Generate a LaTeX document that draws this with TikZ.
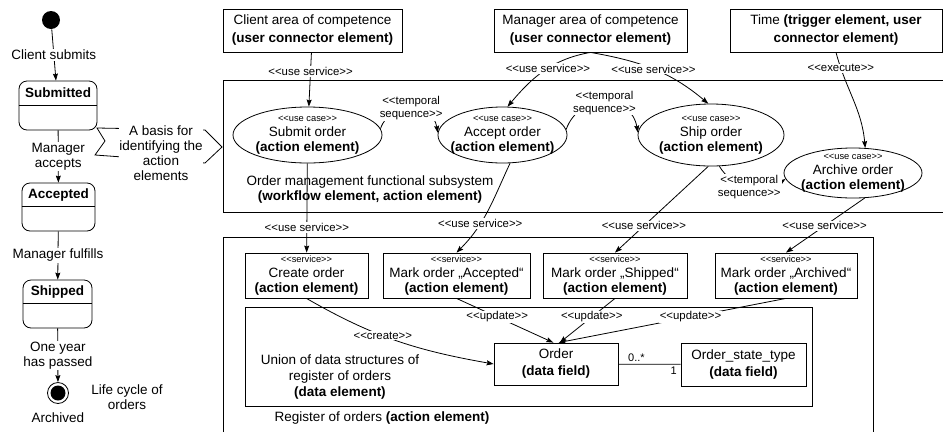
\documentclass[tikz,border=0pt]{standalone}
\usepackage{fontspec}
\setmainfont{Liberation Sans}[Ligatures=TeXOff]
\usetikzlibrary{arrows.meta, calc, shapes.geometric}
\newcommand{\stereo}[1]{{\fontsize{9.3}{10}\selectfont <<#1>>}}

\begin{document}
\begin{tikzpicture}[x=1pt, y=-1pt, line width=0.8pt,
  font=\fontsize{13.5}{15}\selectfont,
  box/.style={draw, align=center, inner sep=0pt},
  usecase/.style={draw, ellipse, align=center, inner sep=-20pt},
  state/.style={draw, rounded corners=8pt, inner sep=0pt},
  trans/.style={fill=white, inner sep=1pt, align=center},
  lbl/.style={fill=white, inner sep=1pt, align=center, font=\fontsize{11.4}{13}\selectfont},
  mult/.style={inner sep=2pt, font=\fontsize{11}{13}\selectfont},
  arr/.style={-{Stealth[length=7pt, width=5pt, inset=1pt]}}]
\useasboundingbox (0,0) rectangle (943,432);
% Life cycle of orders
\node[circle, fill=black, minimum size=18pt, inner sep=0pt] (init) at (51,20) {};
\node[state, minimum width=78pt, minimum height=49pt] (submitted) at (58,105.5) {};
\node[state, minimum width=73pt, minimum height=48pt] (accepted) at (58.5,207) {};
\node[state, minimum width=69pt, minimum height=48pt] (shipped) at (57.5,304) {};
\node[circle, draw, minimum size=21pt, inner sep=0pt] (final) at (58,393) {};
\fill (final.center) circle[radius=7.5pt];
% State headers
\draw ($(submitted.north west)+(0,25)$) -- ($(submitted.north east)+(0,25)$);
\node at ($(submitted.north)+(0,12.5)$) {\textbf{Submitted}};
\draw ($(accepted.north west)+(0,24)$) -- ($(accepted.north east)+(0,24)$);
\node at ($(accepted.north)+(0,12)$) {\textbf{Accepted}};
\draw ($(shipped.north west)+(0,24)$) -- ($(shipped.north east)+(0,24)$);
\node at ($(shipped.north)+(0,12)$) {\textbf{Shipped}};
% Transitions
\draw[arr] (init) -- node[trans] {Client submits} (submitted);
\draw[arr] (submitted) -- node[trans] {Manager\\accepts} (accepted);
\draw[arr] (accepted) -- node[trans] {Manager fulfills} (shipped);
\draw[arr] (shipped) -- node[trans] {One year\\has passed} (final);
\node (archivedlbl) at (58,418) {Archived};
\node[align=center] (lifecycle) at (127,397) {Life cycle of\\orders};
% Basis arrow
\draw (97,128) -- (205,130) -- (222,147) -- (205,163) -- (95,155) -- (105,141) -- cycle;
\node[fill=white, inner sep=0.5pt, align=center] (basis) at (161,153.5)
  {A basis for\\identifying the\\action\\elements};
% User connectors
\node[box, minimum width=179pt, minimum height=43pt] (client) at (312.5,30.5)
  {Client area of competence\\[3pt]\textbf{(user connector element)}};
\node[box, minimum width=193pt, minimum height=43pt] (manager) at (590.5,30.5)
  {Manager area of competence\\[3pt]\textbf{(user connector element)}};
\node[box, minimum width=212pt, minimum height=43pt] (time) at (836,30.5)
  {Time \textbf{(trigger element, user}\\[3pt]\textbf{connector element)}};
% Functional subsystem
\draw (943,80) -| (223,212) -- (943,212);
\node[align=center] (subsys) at (370,189.5)
  {Order management functional subsystem\\\textbf{(workflow element, action element)}};
\node[usecase, minimum width=149pt, minimum height=56pt] (submit) at (307.5,135)
  {\stereo{use case}\\Submit order\\\textbf{(action element)}};
\node[usecase, minimum width=129pt, minimum height=56pt] (accept) at (502.5,135)
  {\stereo{use case}\\Accept order\\\textbf{(action element)}};
\node[usecase, minimum width=146pt, minimum height=62pt] (ship) at (711,135)
  {\stereo{use case}\\Ship order\\\textbf{(action element)}};
\node[usecase, minimum width=138pt, minimum height=50pt] (archive) at (853,173)
  {\stereo{use case}\\Archive order\\\textbf{(action element)}};
% Register of orders
\draw (223,432) |- (873,237) -- (873,432);
\node[anchor=west] (reglbl) at (271,418) {Register of orders \textbf{(action element)}};
\node[box, minimum width=123pt, minimum height=45pt] (create) at (306.5,275.5)
  {\stereo{service}\\Create order\\\textbf{(action element)}};
\node[box, minimum width=147pt, minimum height=45pt] (markacc) at (456.5,275.5)
  {\stereo{service}\\Mark order „Accepted“\\\textbf{(action element)}};
\node[box, minimum width=144pt, minimum height=45pt] (markship) at (615,275.5)
  {\stereo{service}\\Mark order „Shipped“\\\textbf{(action element)}};
\node[box, minimum width=142pt, minimum height=45pt] (markarch) at (786,275.5)
  {\stereo{service}\\Mark order „Archived“\\\textbf{(action element)}};
\node[draw, minimum width=567pt, minimum height=99pt] (datael) at (528.5,356.5) {};
\node[align=center] (union) at (340,377)
  {Union of data structures of\\[1pt]register of orders\\[1pt]\textbf{(data element)}};
\node[box, minimum width=124pt, minimum height=42pt] (order) at (556,364)
  {Order\\[2pt]\textbf{(data field)}};
\node[box, minimum width=125pt, minimum height=43pt] (ostate) at (743.5,364.5)
  {Order\_state\_type\\[2pt]\textbf{(data field)}};
% Use service and execute
\draw[arr] (client) -- node[lbl, pos=0.35] {<<use service>>} (submit);
\draw[arr] (manager.south) to[out=190, in=50] node[lbl, pos=0.45] {<<use service>>} (accept.80);
\draw[arr] (manager.south) to[out=-10, in=140] node[lbl, pos=0.5] {<<use service>>} (ship.95);
\draw[arr] (time.south) to[out=-75, in=95] node[lbl, pos=0.15] {<<execute>>} (archive.64);
% Temporal sequence
\draw[arr] (submit.5) to[out=70, in=100, looseness=1.4] node[lbl] {<<temporal\\sequence>>} (accept.178);
\draw[arr] (accept.5) to[out=70, in=100, looseness=1.4] node[lbl] {<<temporal\\sequence>>} (ship.178);
\draw[arr] (ship.-75) to[out=-60, in=215] node[lbl] {<<temporal\\sequence>>} (archive.185);
% Services
\draw[arr] (submit) -- node[lbl, pos=0.72] {<<use service>>} (create);
\draw[arr] (accept.-75) to[out=-115, in=45] node[lbl, pos=0.65] {<<use service>>} (markacc.north);
\draw[arr] (ship.-95) -- node[lbl, pos=0.69] {<<use service>>} (markship.north);
\draw[arr] (archive.-65) -- node[lbl, pos=0.51] {<<use service>>} (markarch.north);
% Data access
\draw[arr] (create.south) to[out=-30, in=170] node[lbl, pos=0.42] {<<create>>} (order.west);
\draw[arr] (markacc.south) -- node[lbl, pos=0.42] {<<update>>} (order.97);
\draw[arr] (markship.south) -- node[lbl, pos=0.42] {<<update>>} (order.80);
\draw[arr] (markarch.south) -- node[lbl, pos=0.42] {<<update>>} (order.83);
\draw (order) -- node[mult, pos=0.29, above] {0..*} node[mult, pos=0.89, below] {1} (ostate);
\end{tikzpicture}
\end{document}
